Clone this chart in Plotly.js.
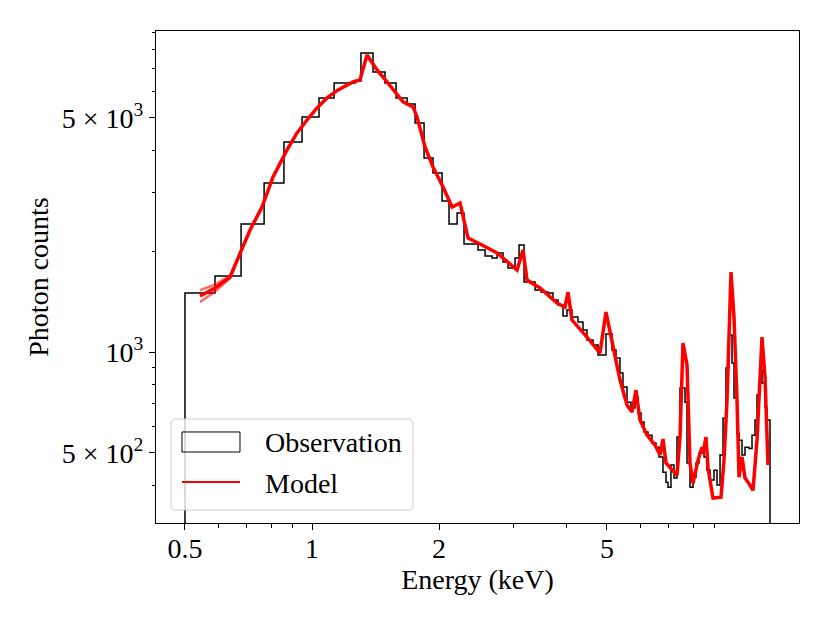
<!DOCTYPE html>
<html>
<head>
<meta charset="utf-8">
<script src="https://cdn.plot.ly/plotly-3.0.1.min.js"></script>
<style>html,body{margin:0;padding:0;background:#fff;}#chart{width:830px;height:623px;}</style>
</head>
<body>
<div id="chart"></div>
<script>
// Observation: histogram bin edges (keV) and counts per bin
const obsEdges = [0.500,0.589,0.679,0.770,0.858,0.947,1.039,1.128,1.264,1.306,1.395,1.489,1.582,1.680,1.755,1.843,1.935,2.033,2.112,2.207,2.292,2.474,2.571,2.671,2.745,2.836,2.914,3.028,3.095,3.180,3.377,3.489,3.624,3.724,3.828,3.933,4.020,4.131,4.268,4.387,4.483,4.633,4.761,4.973,5.139,5.252,5.368,5.456,5.577,5.700,5.826,5.922,6.020,6.119,6.254,6.392,6.533,6.641,6.787,6.900,6.975,7.090,7.207,7.327,7.448,7.654,7.738,7.865,7.995,8.127,8.261,8.398,8.490,8.630,8.773,8.966,9.114,9.265,9.418,9.573,9.731,9.892,10.000,10.165,10.277,10.446,10.618,10.853,11.032,11.214,11.337,11.524,11.650,11.842,11.972,12.170];
const obsCounts = [1500,1686,2411,3195,4236,5029,5732,6353,6441,7808,6852,6353,5732,5500,4826,3794,3422,2823,2411,2600,2101,2016,1934,1908,1975,1856,1781,1908,2086,1618,1531,1510,1500,1429,1381,1281,1335,1272,1229,1163,1086,1049,980,1132,1014,960,866,786,709,681,734,658,618,577,565,535,520,486,438,409,395,460,421,558,781,709,467,395,423,467,499,510,486,444,415,444,401,493,635,896,1125,927,729,573,546,493,520,516,565,627,744,884,808,685,627];
const obsBase = 1; // histogram floor (below the visible range)

// Model curve
const modelEnergy = [0.5428,0.5891,0.6393,0.6752,0.7130,0.7613,0.8084,0.8726,0.9214,0.9731,1.0277,1.0853,1.1525,1.2505,1.2991,1.3500,1.4258,1.5057,1.5903,1.6432,1.7354,1.7737,1.8527,1.9350,2.0442,2.1471,2.2429,2.3430,2.5015,2.7445,3.0611,3.1623,3.2319,3.4699,3.8066,3.9760,4.0416,4.1308,4.4833,4.8129,4.9731,5.1669,5.3677,5.5768,5.7311,5.8575,5.9868,6.2200,6.4976,6.6772,6.7874,6.8995,7.1292,7.3265,7.4475,7.5705,7.7376,7.8652,7.9951,8.2163,8.3977,8.4437,8.5831,8.6773,8.9174,9.1642,9.3155,9.4693,9.6256,9.8376,10.000,10.165,10.277,10.446,10.618,10.794,11.092,11.337,11.650,11.842,12.037];
const modelCounts = [1470,1553,1674,1975,2313,2709,3330,4009,4506,4926,5351,5732,6055,6397,6485,7701,6946,6397,5851,5576,5388,5029,4093,3567,3108,2709,2785,2189,2101,1975,1757,2016,1640,1553,1400,1362,1510,1246,1109,993,1316,1035,825,695,662,770,627,565,528,493,550,467,444,429,558,1064,915,467,406,476,520,499,558,451,367,369,369,476,719,1733,1272,719,423,486,421,409,387,546,1109,842,460];
// Extra model realisations at low energy (they spread apart there)
const modelLowEnergy = [0.5428,0.5891,0.6393,0.6752];
const modelLowUpper = [1531,1590,1690,1975];
const modelLowLower = [1410,1515,1660,1975];

const xTickVals = [0.5,1,2,5];
const xTickText = ['0.5','1','2','5'];
const xMinorVals = [0.6,0.7,0.8,0.9,3,4,6,7,8,9];
const yTickVals = [500,1000,5000];
const yTickText = ['5 \u00d7 10<sup>2</sup>','10<sup>3</sup>','5 \u00d7 10<sup>3</sup>'];
const yMinorVals = [400,600,700,800,900,2000,3000,4000,6000,7000,8000,9000];

const obsX = [obsEdges[0]], obsY = [obsBase];
for (let i = 0; i < obsCounts.length; i++) { obsX.push(obsEdges[i]); obsY.push(obsCounts[i]); }
obsX.push(obsEdges[obsEdges.length-1]); obsY.push(obsBase);

const FONT = 'Liberation Serif, Times New Roman, serif';
const FS = 28;
const traces = [
  {x: obsX, y: obsY, type:'scatter', mode:'lines', line:{shape:'hv', color:'#000', width:1.5}, name:'Observation', showlegend:false},
  {x: modelLowEnergy, y: modelLowUpper, type:'scatter', mode:'lines', line:{color:'rgba(255,0,0,0.6)', width:2.5}, showlegend:false},
  {x: modelLowEnergy, y: modelLowLower, type:'scatter', mode:'lines', line:{color:'rgba(255,0,0,0.6)', width:2.5}, showlegend:false},
  {x: modelEnergy, y: modelCounts, type:'scatter', mode:'lines', line:{color:'#ff0000', width:3.5}, name:'Model', showlegend:false}
];

const axisCommon = {
  type:'log', showgrid:false, zeroline:false, showline:true, mirror:true,
  linecolor:'#000', linewidth:1, ticks:'outside', ticklen:6, tickwidth:1, tickcolor:'#000',
  tickfont:{family:FONT, size:FS, color:'#000'}, tickmode:'array'
};

function rr(x0,y0,x1,y1,rx,ry){
  return `M${x0+rx},${y0} L${x1-rx},${y0} Q${x1},${y0} ${x1},${y0+ry} L${x1},${y1-ry} Q${x1},${y1} ${x1-rx},${y1} L${x0+rx},${y1} Q${x0},${y1} ${x0},${y1-ry} L${x0},${y0+ry} Q${x0},${y0} ${x0+rx},${y0} Z`;
}

const layout = {
  width:830, height:623,
  margin:{l:156, r:31, t:31, b:100},
  paper_bgcolor:'#fff', plot_bgcolor:'#fff',
  font:{family:FONT, size:FS, color:'#000'},
  xaxis: Object.assign({}, axisCommon, {
    range:[-0.3697, 1.154], tickvals:xTickVals, ticktext:xTickText, ticklabelstandoff:-6,
    minor:{tickmode:'array', tickvals:xMinorVals, ticks:'outside', ticklen:3.5, tickwidth:1, tickcolor:'#000', showgrid:false},
    title:{text:'Energy (keV)', font:{family:FONT, size:FS}, standoff:0}
  }),
  yaxis: Object.assign({}, axisCommon, {
    range:[2.49, 3.958], tickvals:yTickVals, ticktext:yTickText,
    minor:{tickmode:'array', tickvals:yMinorVals, ticks:'outside', ticklen:3.5, tickwidth:1, tickcolor:'#000', showgrid:false},
    title:{text:'Photon counts', font:{family:FONT, size:FS}, standoff:5}
  }),
  shapes:[
    {type:'path', xref:'paper', yref:'paper', layer:'above',
     path: rr(0.0233,0.0264,0.3997,0.2114,0.0078,0.0102),
     fillcolor:'rgba(255,255,255,0.8)', line:{color:'#cccccc', width:1}},
    {type:'rect', xref:'paper', yref:'paper', layer:'above', x0:0.0404, x1:0.1306, y0:0.1443, y1:0.185,
     fillcolor:'rgba(0,0,0,0)', line:{color:'#000', width:1}},
    {type:'line', xref:'paper', yref:'paper', layer:'above', x0:0.0404, x1:0.1306, y0:0.0833, y1:0.0833,
     line:{color:'#ff0000', width:2}}
  ],
  annotations:[
    {xref:'paper', yref:'paper', x:0.1664, y:0.1646, xanchor:'left', yanchor:'middle', showarrow:false,
     text:'Observation', font:{family:FONT, size:FS, color:'#000'}},
    {xref:'paper', yref:'paper', x:0.1664, y:0.0793, xanchor:'left', yanchor:'middle', showarrow:false,
     text:'Model', font:{family:FONT, size:FS, color:'#000'}}
  ]
};

Plotly.newPlot('chart', traces, layout, {staticPlot:true, displayModeBar:false});
</script>
</body>
</html>
